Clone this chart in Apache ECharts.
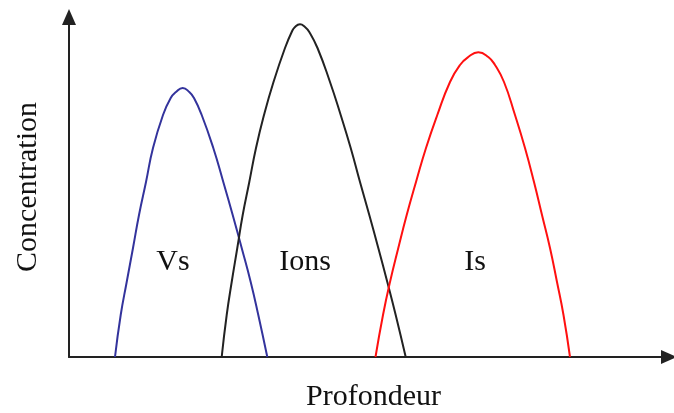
<!DOCTYPE html>
<html lang="fr">
<head>
  <meta charset="UTF-8" />
  <title>Concentration / Profondeur</title>
  <script src="https://cdn.jsdelivr.net/npm/echarts@6.0.0/dist/echarts.min.js"></script>
</head>
<body style="margin: 0;">
  <div id="main" style="width: 674px; height: 413px;"></div>

  <script>
    // profils : [profondeur, concentration] (unités arbitraires)
    const vsProfile = [
      [46, 0], [51.7, 42], [57.7, 75], [64, 109], [70, 142], [77, 175], [84, 209],
      [94, 242], [101.7, 259], [107, 265], [113.7, 269], [120.3, 265], [125, 259],
      [132.7, 242], [144.3, 209], [154.3, 175], [163.7, 142], [172.7, 109], [181.7, 75],
      [189.3, 42], [198.3, 0]
    ];
    const ionsProfile = [
      [152.7, 0], [157.7, 42], [162.7, 75], [168.3, 109], [173.7, 142], [180.3, 175],
      [187, 209], [195, 242], [204.5, 275], [216, 309], [222.7, 325], [226, 330],
      [231, 332.7], [236, 330], [240.3, 325], [248.5, 309], [261, 275], [271.7, 242],
      [281.7, 209], [291, 175], [300.3, 142], [309.3, 109], [318.3, 75], [326.7, 42],
      [336.7, 0]
    ];
    const isProfile = [
      [306.5, 0], [314, 42], [321, 75], [329.3, 109], [337.7, 142], [347, 175],
      [357, 209], [368.3, 242], [381, 275], [391, 292], [399.3, 300], [409.3, 304.7],
      [419.3, 300], [426, 292], [435, 275], [446, 242], [456, 209], [465, 175],
      [473, 142], [481, 109], [488, 75], [494.5, 42], [501, 0]
    ];
    const labelNames = ["Vs", "Ions", "Is"];
    const labelPos = [[104, 95], [236, 95], [406, 95]];

    const font = "Liberation Serif";
    const myChart = echarts.init(document.getElementById("main"));

    function curve(data, color) {
      return {
        type: "line",
        data: data,
        smooth: 0.5,
        showSymbol: false,
        lineStyle: { color: color, width: 2 },
      };
    }

    const axisLine = {
      show: true,
      symbol: ["none", "triangle"],
      symbolSize: [14, 16],
      lineStyle: { color: "#222", width: 2 },
    };

    myChart.setOption({
      animation: false,
      grid: { left: 69, top: 17, width: 600, height: 340, outerBoundsMode: "none" },
      xAxis: {
        type: "value",
        min: 0,
        max: 600,
        name: "Profondeur",
        nameLocation: "middle",
        nameGap: 25,
        nameTextStyle: { fontFamily: font, fontSize: 30, color: "#111", padding: [0, 0, 0, 9] },
        axisLine: axisLine,
        axisTick: { show: false },
        axisLabel: { show: false },
        splitLine: { show: false },
      },
      yAxis: {
        type: "value",
        min: 0,
        max: 340,
        name: "Concentration",
        nameLocation: "middle",
        nameGap: 26,
        nameTextStyle: { fontFamily: font, fontSize: 30, color: "#111" },
        axisLine: axisLine,
        axisTick: { show: false },
        axisLabel: { show: false },
        splitLine: { show: false },
      },
      series: [
        curve(vsProfile, "#33339c"),
        curve(ionsProfile, "#222"),
        curve(isProfile, "#ff1010"),
        {
          type: "scatter",
          symbolSize: 0,
          itemStyle: { opacity: 1 },
          data: labelPos.map((p, i) => ({ value: p, name: labelNames[i] })),
          label: {
            show: true,
            position: "inside",
            formatter: (p) => p.name,
            fontFamily: font,
            fontSize: 30,
            color: "#111",
          },
        },
      ],
    });
  </script>
</body>
</html>
